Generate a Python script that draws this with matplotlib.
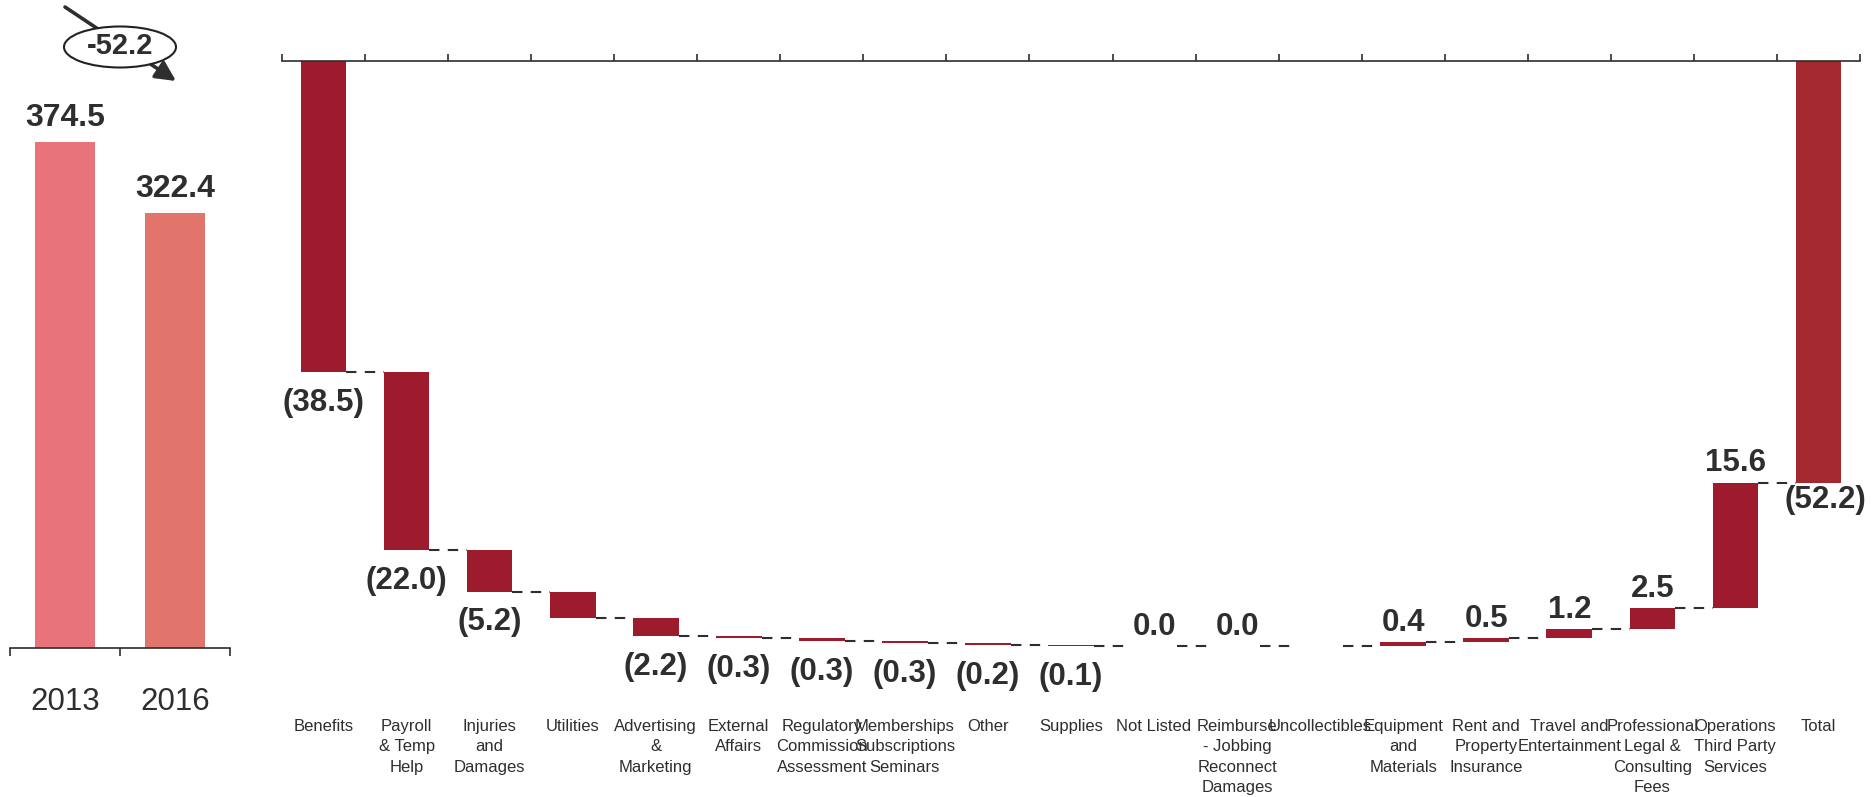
import matplotlib
matplotlib.use('Agg')
import matplotlib.pyplot as plt
from matplotlib.patches import Ellipse, FancyArrowPatch
import numpy as np

# year-over-year totals
YEARS = ['2013', '2016']
TOTALS = [374.5, 322.4]
CHANGE = -52.2

# bridge of the change, by expense category
CATEGORIES = [
    'Benefits', 'Payroll\n& Temp\nHelp', 'Injuries\nand\nDamages', 'Utilities',
    'Advertising\n&\nMarketing', 'External\nAffairs',
    'Regulatory\nCommission\nAssessment', 'Memberships\nSubscriptions\nSeminars',
    'Other', 'Supplies', 'Not Listed', 'Reimburse\n- Jobbing\nReconnect\nDamages',
    'Uncollectibles', 'Equipment\nand\nMaterials', 'Rent and\nProperty\nInsurance',
    'Travel and\nEntertainment', 'Professional\nLegal &\nConsulting\nFees',
    'Operations\nThird Party\nServices', 'Total',
]
DELTAS = [-38.5, -22.0, -5.2, -3.3, -2.2, -0.3, -0.3, -0.3, -0.2, -0.1,
          0.0, 0.0, 0.0, 0.4, 0.5, 1.2, 2.5, 15.6]
SHOW_LABEL = [True, True, True, False, True, True, True, True, True, True,
              True, True, False, True, True, True, True, True]
TOTAL = -52.2

W, H = 1874, 797
INK = '#2E2E2E'
RED = '#9D1B2D'
RED_TOTAL = '#A3292F'
PINK = ['#E9737A', '#E2756B']
FONT = ['Liberation Sans', 'DejaVu Sans']


def fx(px):
    return px / W


def fy(py):
    return 1 - py / H


def left_panel(fig):
    ax = fig.add_axes([fx(10), fy(648), fx(220), 648 / H])
    x = np.arange(len(YEARS))
    ax.bar(x, TOTALS, width=0.55, color=PINK)
    for xi, v in zip(x, TOTALS):
        ax.annotate(f'{v:.1f}', (xi, v), xytext=(0, 11.5), textcoords='offset points',
                    ha='center', va='baseline', fontsize=23, fontweight='bold',
                    color=INK, family=FONT)
    ax.set_xlim(-0.5, 1.5)
    ax.set_ylim(0, 480)
    for s in ('top', 'left', 'right'):
        ax.spines[s].set_visible(False)
    ax.spines['bottom'].set_color(INK)
    ax.spines['bottom'].set_linewidth(1.2)
    ax.set_yticks([])
    ax.set_xticks(x, YEARS)
    ax.set_xticks([-0.5, 0.5, 1.5], minor=True)
    ax.tick_params(axis='x', which='major', length=0, pad=28, labelsize=22.5,
                   labelcolor=INK)
    ax.tick_params(axis='x', which='minor', length=6, width=1.2, color=INK,
                   direction='out')
    for lab in ax.get_xticklabels():
        lab.set_family(FONT)

    # change callout: arrow with the difference in an oval
    arrow = FancyArrowPatch((fx(65), fy(7)), (fx(176), fy(81)),
                            transform=fig.transFigure, shrinkA=0, shrinkB=0,
                            arrowstyle='-|>,head_length=0.6,head_width=0.3',
                            mutation_scale=20, lw=2.6, color=INK, zorder=5)
    fig.add_artist(arrow)
    oval = Ellipse((fx(120), fy(47)), fx(112), 41 / H, transform=fig.transFigure,
                   fc='white', ec='#222222', lw=1.5, zorder=6)
    fig.add_artist(oval)
    fig.text(fx(120), fy(46), f'{CHANGE:.1f}', ha='center', va='center',
             fontsize=21, fontweight='bold', color=INK, family=FONT, zorder=7)


def bridge_panel(fig):
    ax = fig.add_axes([fx(282), fy(61) - 646 / H, fx(1578), 646 / H])
    n = len(DELTAS)
    x = np.arange(n + 1)
    ends = np.cumsum(DELTAS)
    starts = ends - np.array(DELTAS)
    bottoms = np.minimum(starts, ends)
    heights = np.abs(DELTAS)
    bw = 0.55

    ax.bar(x[:n], heights, bottom=bottoms, width=bw, color=RED)
    ax.bar(x[n], TOTAL, width=bw, color=RED_TOTAL)

    # dashed connectors between neighbouring bars
    for i in range(n):
        ax.plot([i + bw / 2, i + 1 - bw / 2], [ends[i], ends[i]], color=INK,
                lw=1.5, dashes=(5, 4), solid_capstyle='butt')

    for i, (d, show) in enumerate(zip(DELTAS, SHOW_LABEL)):
        if not show:
            continue
        if d < 0:
            ax.annotate(f'({abs(d):.1f})', (i, bottoms[i]), xytext=(0, -11.5),
                        textcoords='offset points', ha='center', va='top',
                        fontsize=22.5, fontweight='bold', color=INK, family=FONT)
        else:
            ax.annotate(f'{d:.1f}', (i, ends[i]), xytext=(0, 8),
                        textcoords='offset points', ha='center', va='baseline',
                        fontsize=22.5, fontweight='bold', color=INK, family=FONT)
    ax.annotate(f'({abs(TOTAL):.1f})', (n, TOTAL), xytext=(5, -2),
                textcoords='offset points', ha='center', va='top',
                fontsize=22.5, fontweight='bold', color=INK, family=FONT)

    ax.set_xlim(-0.5, n + 0.5)
    ax.set_ylim(-80, 0)
    for s in ('bottom', 'left', 'right'):
        ax.spines[s].set_visible(False)
    ax.spines['top'].set_color(INK)
    ax.spines['top'].set_linewidth(1.2)
    ax.set_yticks([])
    ax.set_xticks(x, CATEGORIES)
    ax.set_xticks(np.arange(n + 2) - 0.5, minor=True)
    ax.tick_params(axis='x', which='major', length=0, pad=8.5, labelsize=12,
                   labelcolor=INK)
    ax.tick_params(axis='x', which='minor', bottom=False, top=True, length=5,
                   width=1.2, color=INK, direction='out')
    for lab in ax.get_xticklabels():
        lab.set_family(FONT)
        lab.set_linespacing(1.45)
        lab.set_verticalalignment('top')


def main():
    fig = plt.figure(figsize=(W / 100, H / 100), dpi=100)
    fig.patch.set_facecolor('white')
    left_panel(fig)
    bridge_panel(fig)
    fig.savefig('out.png', dpi=100)
    plt.close(fig)


if __name__ == '__main__':
    main()
